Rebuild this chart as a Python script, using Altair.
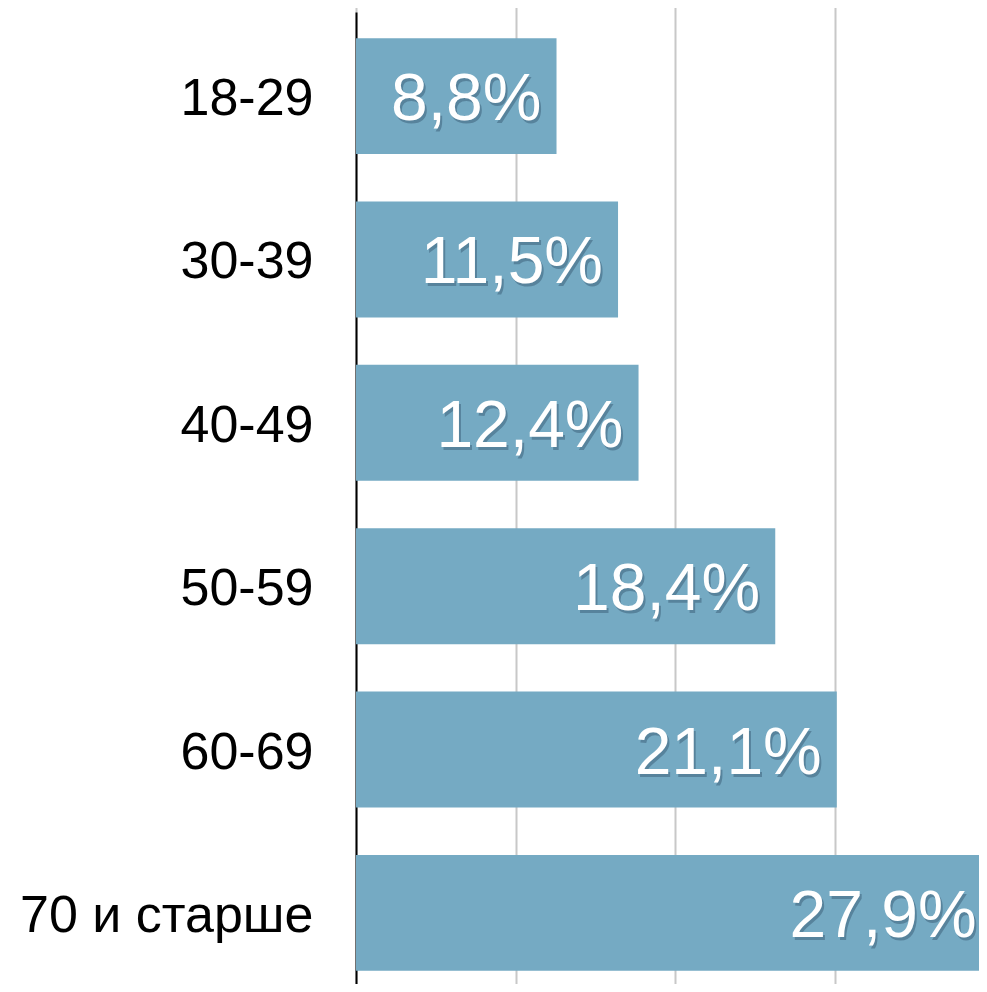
import altair as alt
import pandas as pd

categories = ["18-29", "30-39", "40-49", "50-59", "60-69", "70 и старше"]
values = [8.8, 11.5, 12.4, 18.4, 21.1, 27.9]
labels = ["8,8%", "11,5%", "12,4%", "18,4%", "21,1%", "27,9%"]
grid_ticks = [0, 7, 14, 21]

df = pd.DataFrame({"cat": categories, "val": values, "lab": labels})

x_scale = alt.Scale(domain=[0, 28], nice=False, zero=True, range=[0, 638])
y_scale = alt.Scale(paddingInner=0.29, paddingOuter=0.16, range=[0, 985])

y_enc = alt.Y(
    "cat:N",
    sort=categories,
    scale=y_scale,
    axis=alt.Axis(
        title=None,
        labelFontSize=52,
        labelFont="Liberation Sans",
        labelColor="#000000",
        labelPadding=43,
        labelLimit=500,
        labelOffset=3,
        ticks=False,
        domain=True,
        domainColor="#000000",
        domainWidth=2,
        grid=False,
    ),
)

bars = alt.Chart(df).mark_bar(color="#75aac3").encode(
    x=alt.X(
        "val:Q",
        scale=x_scale,
        axis=alt.Axis(
            title=None,
            values=grid_ticks,
            labels=False,
            ticks=False,
            domain=False,
            grid=True,
            gridColor="#c8c8c8",
            gridWidth=2,
        ),
    ),
    y=y_enc,
)

shadow = alt.Chart(df).mark_text(
    align="right",
    baseline="middle",
    dx=-13,
    dy=7,
    fontSize=66,
    font="Liberation Sans",
    color="#2c4a63",
    opacity=0.4,
).encode(x=alt.X("val:Q", scale=x_scale), y=alt.Y("cat:N", sort=categories, scale=y_scale), text="lab:N")

text = alt.Chart(df).mark_text(
    align="right",
    baseline="middle",
    dx=-15,
    dy=4,
    fontSize=66,
    font="Liberation Sans",
    color="#ffffff",
).encode(x=alt.X("val:Q", scale=x_scale), y=alt.Y("cat:N", sort=categories, scale=y_scale), text="lab:N")

chart = (
    alt.layer(bars, shadow, text)
    .properties(
        width=623,
        height=972,
        autosize=alt.AutoSizeParams(type="none"),
        padding={"left": 348, "top": 4, "right": 0, "bottom": 0},
    )
    .configure_view(stroke=None)
)

chart.save("out.html", embed_options={"renderer": "svg", "actions": False})
